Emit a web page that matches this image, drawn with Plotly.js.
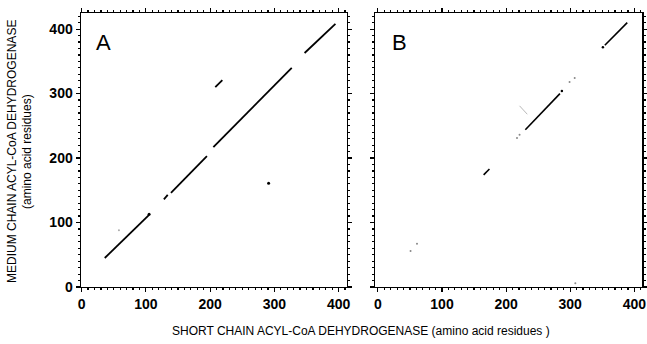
<!DOCTYPE html>
<html><head><meta charset="utf-8">
<script src="https://cdn.plot.ly/plotly-3.0.1.min.js"></script>
<style>html,body{margin:0;padding:0;background:#fff}#c{width:647px;height:344px}</style>
</head><body><div id="c"></div>
<script>
// Panel A: diagonal segments (start x, start y, end x, end y)
const aSegX0 = [36, 128, 139, 205, 347, 208];
const aSegY0 = [45, 136, 146, 217, 363, 310];
const aSegX1 = [105, 134, 195, 327, 395, 219];
const aSegY1 = [112, 143, 203, 340, 408, 321];
const aDotX = [105, 291];
const aDotY = [113, 161];
const aFaintX = [58];
const aFaintY = [88];
// Panel B
const bSegX0 = [354, 230, 165];
const bSegY0 = [375, 244, 174];
const bSegX1 = [389, 284, 174];
const bSegY1 = [410, 300, 183];
const bDotX = [351, 287];
const bDotY = [372, 304];
const bFaintSegX0 = [221];
const bFaintSegY0 = [281];
const bFaintSegX1 = [233];
const bFaintSegY1 = [268];
const bFaintX = [217, 221, 51, 61, 308, 299, 307];
const bFaintY = [231, 236, 56, 67, 6, 318, 324];
const tickVals = [0, 100, 200, 300, 400];
const xTitle = "SHORT CHAIN ACYL-CoA DEHYDROGENASE (amino acid residues )";
const yTitle1 = "MEDIUM CHAIN ACYL-CoA DEHYDROGENASE";
const yTitle2 = "(amino acid residues)";

function segs(x0, y0, x1, y1) {
  const x = [], y = [];
  for (let i = 0; i < x0.length; i++) { x.push(x0[i], x1[i], null); y.push(y0[i], y1[i], null); }
  return {x, y};
}
const sA = segs(aSegX0, aSegY0, aSegX1, aSegY1);
const sB = segs(bSegX0, bSegY0, bSegX1, bSegY1);
const fB = segs(bFaintSegX0, bFaintSegY0, bFaintSegX1, bFaintSegY1);

const traces = [
  {x: sA.x, y: sA.y, mode: 'lines', line: {color: '#000', width: 1.8}, xaxis: 'x', yaxis: 'y'},
  {x: aDotX, y: aDotY, mode: 'markers', marker: {color: '#000', size: 3}, xaxis: 'x', yaxis: 'y'},
  {x: aFaintX, y: aFaintY, mode: 'markers', marker: {color: '#aaa', size: 2}, xaxis: 'x', yaxis: 'y'},
  {x: sB.x, y: sB.y, mode: 'lines', line: {color: '#000', width: 1.6}, xaxis: 'x2', yaxis: 'y2'},
  {x: bDotX, y: bDotY, mode: 'markers', marker: {color: '#000', size: 2.5}, xaxis: 'x2', yaxis: 'y2'},
  {x: fB.x, y: fB.y, mode: 'lines', line: {color: '#999', width: 0.7}, xaxis: 'x2', yaxis: 'y2'},
  {x: bFaintX, y: bFaintY, mode: 'markers', marker: {color: '#888', size: 2}, xaxis: 'x2', yaxis: 'y2'}
];

const tf = {family: 'Liberation Sans, Arial, sans-serif', size: 14, color: '#000', weight: 'bold'};
function ax(domain, range, anchor) {
  return {
    domain, range, anchor, tickvals: tickVals, ticks: 'outside', ticklen: 4, tickwidth: 1.2,
    tickcolor: '#000', showline: true, linecolor: '#000', linewidth: 1.5, mirror: 'allticks',
    showgrid: false, zeroline: false, tickfont: tf, ticklabeloverflow: 'allow',
    minor: {dtick: 10, tick0: 0, ticks: 'outside', ticklen: 2, tickwidth: 1.2, tickcolor: '#000', showgrid: false}
  };
}
const layout = {
  width: 647, height: 344, margin: {l: 0, r: 0, t: 0, b: 0},
  paper_bgcolor: '#fff', plot_bgcolor: '#fff', showlegend: false,
  xaxis: ax([0.1252, 0.5363], [-1, 413], 'y'),
  yaxis: ax([0.1657, 0.9622], [0, 425], 'x'),
  xaxis2: ax([375/647, 642/647], [-4.5, 412], 'y2'),
  yaxis2: Object.assign(ax([0.1657, 0.9622], [0, 425], 'x2'), {showticklabels: false}),
  annotations: [
    {text: 'A', xref: 'paper', yref: 'paper', x: 94/647, y: 1 - 42/344, xanchor: 'left', yanchor: 'middle', showarrow: false, font: {family: 'Liberation Sans, Arial', size: 22, color: '#000'}},
    {text: 'B', xref: 'paper', yref: 'paper', x: 390/647, y: 1 - 42/344, xanchor: 'left', yanchor: 'middle', showarrow: false, font: {family: 'Liberation Sans, Arial', size: 22, color: '#000'}},
    {text: xTitle, xref: 'paper', yref: 'paper', x: 361/647, y: 1 - 331/344, xanchor: 'center', yanchor: 'middle', showarrow: false, font: {family: 'Liberation Sans, Arial', size: 12, color: '#000'}},
    {text: yTitle1, xref: 'paper', yref: 'paper', x: 12/647, y: 1 - 152/344, xanchor: 'center', yanchor: 'middle', textangle: -90, showarrow: false, font: {family: 'Liberation Sans, Arial', size: 12, color: '#000'}},
    {text: yTitle2, xref: 'paper', yref: 'paper', x: 27/647, y: 1 - 152/344, xanchor: 'center', yanchor: 'middle', textangle: -90, showarrow: false, font: {family: 'Liberation Sans, Arial', size: 12, color: '#000'}}
  ]
};
Plotly.newPlot('c', traces, layout, {displayModeBar: false, staticPlot: true});
</script></body></html>
